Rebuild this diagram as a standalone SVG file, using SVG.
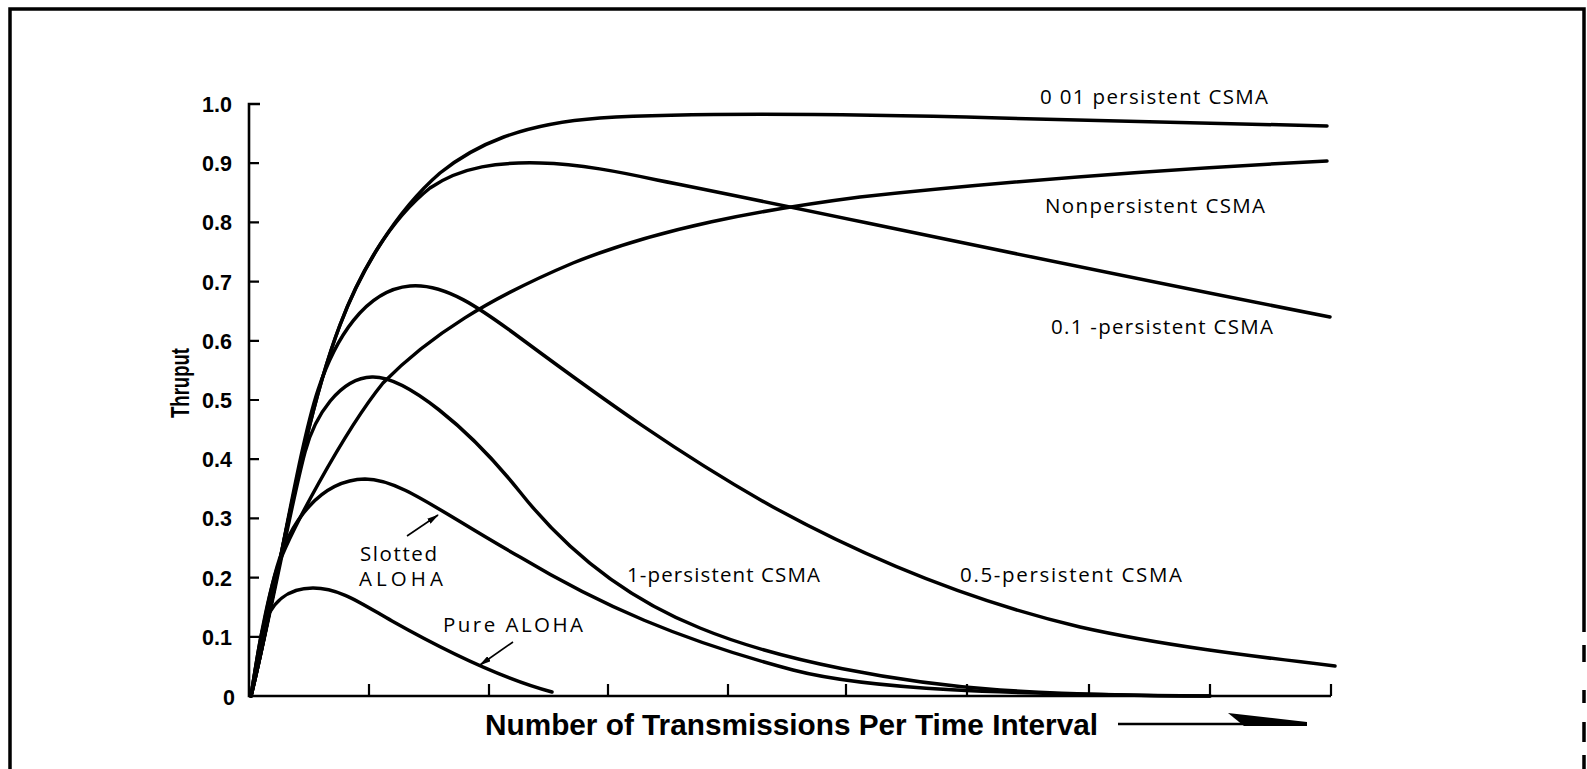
<svg xmlns="http://www.w3.org/2000/svg" width="1587" height="769" viewBox="0 0 1587 769">
  <defs>
    <marker id="head" viewBox="0 0 12 6" refX="11" refY="3" markerWidth="12" markerHeight="6" markerUnits="userSpaceOnUse" orient="auto">
      <path d="M0,0 L12,3 L0,6 Z" fill="#000"/>
    </marker>
  </defs>
  <style>
    .frame{fill:none;stroke:#000;stroke-width:3.5}
    .axis{fill:none;stroke:#000;stroke-width:2.6}
    .tick{stroke:#000;stroke-width:2.2}
    .curve{fill:none;stroke:#000;stroke-width:3.5;stroke-linecap:round;stroke-linejoin:round}
    .pointer{stroke:#000;stroke-width:1.6}
    .num{font-family:"Liberation Sans",Arial,sans-serif;font-weight:bold;font-size:21.5px;text-anchor:end;fill:#000}
    .lbl{font-family:"Open Sans","Liberation Sans",sans-serif;font-size:20.5px;fill:#000}
    .title{font-family:"Liberation Sans",Arial,sans-serif;font-weight:bold;fill:#000}
  </style>

  <rect width="1587" height="769" fill="#fff"/>

  <!-- page frame, open at the bottom -->
  <g id="frame">
    <path class="frame" d="M10,769 V9 H1584 V632"/>
    <path class="frame" d="M1584,645 V662 M1584,690 V703 M1584,722 V742 M1584,755 V769"/>
  </g>

  <!-- axes with tick marks -->
  <g id="axes">
    <path class="axis" d="M260,104 H249 V696 H1331"/>
    <path class="tick" d="M249,163.2 h10 M249,222.4 h10 M249,281.6 h10 M249,340.8 h10 M249,400 h10 M249,459.2 h10 M249,518.4 h10 M249,577.6 h10 M249,636.8 h10"/>
    <path class="tick" d="M369,696 v-12 M489,696 v-12 M608,696 v-12 M728,696 v-12 M846,696 v-12 M967,696 v-12 M1089,696 v-12 M1210,696 v-12 M1331,696 v-12"/>
  </g>

  <!-- y-axis scale -->
  <g id="y-scale">
    <text class="num" x="232" y="112">1.0</text>
    <text class="num" x="232" y="171">0.9</text>
    <text class="num" x="232" y="230">0.8</text>
    <text class="num" x="232" y="290">0.7</text>
    <text class="num" x="232" y="349">0.6</text>
    <text class="num" x="232" y="408">0.5</text>
    <text class="num" x="232" y="467">0.4</text>
    <text class="num" x="232" y="526">0.3</text>
    <text class="num" x="232" y="586">0.2</text>
    <text class="num" x="232" y="645">0.1</text>
    <text class="num" x="235" y="705">0</text>
  </g>

  <!-- axis titles -->
  <g id="y-title">
    <text class="title" font-size="26" text-anchor="middle" textLength="70" lengthAdjust="spacingAndGlyphs" transform="translate(189,383) rotate(-90)">Thruput</text>
  </g>
  <g id="x-title">
    <text class="title" font-size="29" x="485" y="735" textLength="613" lengthAdjust="spacingAndGlyphs">Number of Transmissions Per Time Interval</text>
    <path d="M1118,724 H1307" stroke="#000" stroke-width="2.4"/>
    <path d="M1228,713 L1307,722 L1307,726 L1244,726 Z" fill="#000"/>
  </g>

  <!-- throughput curves -->
  <g id="curves">
    <path id="csma-001" class="curve" d="M251,696 C275,600 300,430 340,325 C360,272 395,212 440,173 C475,145 520,124 600,118 C700,112 850,114 1000,118 C1150,122 1250,124 1327,126"/>
    <path id="csma-01" class="curve" d="M251,696 C275,600 300,430 340,325 C360,272 390,220 430,188 C462,166 500,162 540,163 C580,164 620,172 657,180 C800,208 1000,252 1330,317"/>
    <path id="csma-non" class="curve" d="M251,696 C256,665 262,620 275,575 C285,540 345,430 383,383 C430,335 490,298 573,263 C660,228 760,210 860,197 C1000,182 1150,170 1327,161"/>
    <path id="csma-05" class="curve" d="M251,696 C275,600 298,450 318,390 C335,339 365,290 410,286 C445,283 480,308 523,340 C600,397 680,455 773,507 C870,560 975,602 1080,627 C1160,645 1250,656 1335,666"/>
    <path id="csma-1" class="curve" d="M251,696 C273,605 292,500 305,452 C315,415 340,378 372,377 C405,376 468,427 520,492 C570,555 630,600 700,628 C780,661 900,683 1000,690 C1080,695 1150,696 1210,696"/>
    <path id="aloha-slotted" class="curve" d="M251,696 C257,660 266,605 277,567 C290,522 320,480 365,479 C400,479 440,512 520,557 C600,605 680,640 793,670 C870,690 1000,694 1210,696"/>
    <path id="aloha-pure" class="curve" d="M251,696 C255,672 258,650 262,632 C270,600 290,588 313,588 C340,588 362,604 392,621 C440,648 500,678 552,692"/>
  </g>

  <!-- curve labels -->
  <g id="labels">
    <text class="lbl" x="1040" y="104" textLength="228">0 01 persistent CSMA</text>
    <text class="lbl" x="1045" y="213" textLength="220">Nonpersistent CSMA</text>
    <text class="lbl" x="1051" y="334" textLength="222">0.1 -persistent CSMA</text>
    <text class="lbl" x="960" y="582" textLength="222">0.5-persistent CSMA</text>
    <text class="lbl" x="627" y="582" textLength="193">1-persistent CSMA</text>
    <text class="lbl" x="360" y="561" textLength="77">Slotted</text>
    <text class="lbl" x="359" y="586" textLength="84">ALOHA</text>
    <text class="lbl" x="443" y="632" textLength="140">Pure ALOHA</text>
  </g>

  <!-- pointers from labels to curves -->
  <g id="pointers">
    <line class="pointer" x1="407" y1="536" x2="438" y2="515" marker-end="url(#head)"/>
    <line class="pointer" x1="513" y1="642" x2="480" y2="665" marker-end="url(#head)"/>
  </g>
</svg>
